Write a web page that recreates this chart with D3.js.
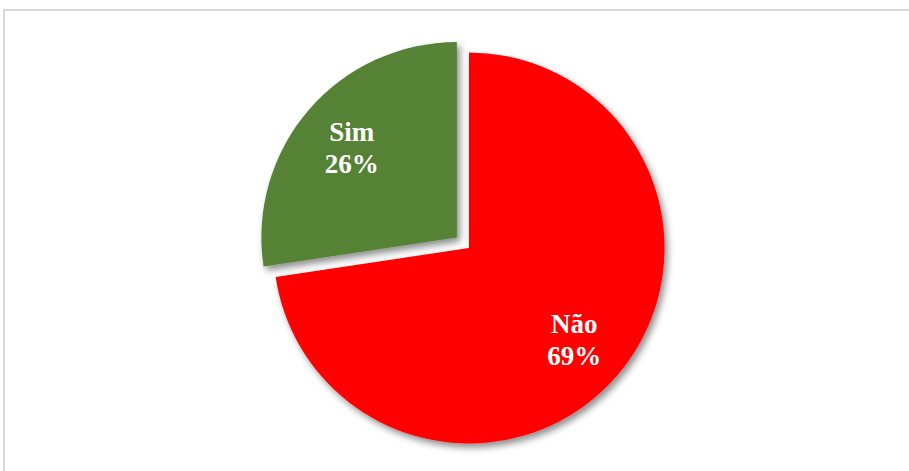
<!DOCTYPE html>
<html>
<head>
<meta charset="utf-8">
<script src="https://cdn.jsdelivr.net/npm/d3@7"></script>
<style>
  html, body { margin: 0; padding: 0; background: #fff; }
  svg { display: block; }
</style>
</head>
<body>
<svg id="chart" width="909" height="471"></svg>
<script>
const categories = ["Não", "Sim"];
const values = [69, 26];
const colors = ["#FF0000", "#548235"];
const explode = [0, 16];

const svg = d3.select("#chart");
const W = 909, H = 471;

// chart frame
svg.append("rect")
  .attr("x", 4).attr("y", 10)
  .attr("width", W + 20).attr("height", H + 20)
  .attr("fill", "#fff")
  .attr("stroke", "#d9d9d9")
  .attr("stroke-width", 2);

const defs = svg.append("defs");
const f = defs.append("filter").attr("id", "shadow")
  .attr("x", "-20%").attr("y", "-20%").attr("width", "140%").attr("height", "140%");
f.append("feDropShadow")
  .attr("dx", 3).attr("dy", 4)
  .attr("stdDeviation", 3.5)
  .attr("flood-color", "#000")
  .attr("flood-opacity", 0.45);

const cx = 469, cy = 248, r = 195.5;
const data = categories.map((c, i) => ({ cat: c, value: values[i], color: colors[i], ex: explode[i] }));

const pie = d3.pie().sort(null).value(d => d.value).startAngle(0).endAngle(2 * Math.PI);
const arcs = pie(data);
const arc = d3.arc().innerRadius(0).outerRadius(r);
const labelArc = d3.arc().innerRadius(r * 0.71).outerRadius(r * 0.71);

const g = svg.append("g").attr("transform", `translate(${cx},${cy})`);

const slices = g.selectAll("g.slice").data(arcs).join("g")
  .attr("class", "slice")
  .attr("transform", d => {
    const m = (d.startAngle + d.endAngle) / 2;
    return `translate(${Math.sin(m) * d.data.ex},${-Math.cos(m) * d.data.ex})`;
  });

slices.append("path")
  .attr("d", arc)
  .attr("fill", d => d.data.color)
  .attr("filter", "url(#shadow)");

slices.each(function(d) {
  const [lx, ly] = labelArc.centroid(d);
  const t = d3.select(this).append("text")
    .attr("x", lx).attr("y", ly)
    .attr("text-anchor", "middle")
    .attr("fill", "#fff")
    .attr("font-family", "'Liberation Serif', 'Times New Roman', serif")
    .attr("font-weight", "bold")
    .attr("font-size", 27);
  t.append("tspan").attr("x", lx).attr("dy", -6).text(d.data.cat);
  t.append("tspan").attr("x", lx).attr("dy", 32).text(d.data.value + "%");
});
</script>
</body>
</html>
